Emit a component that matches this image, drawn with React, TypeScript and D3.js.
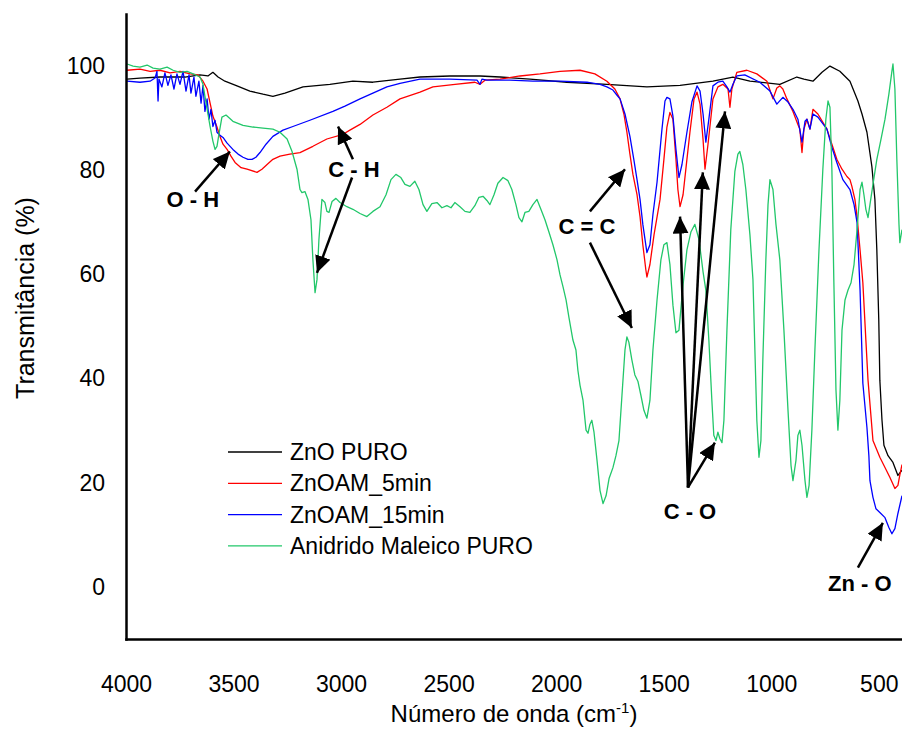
import React, { useRef, useEffect } from 'react';
import * as d3 from 'd3';

type Pt = [number, number];

// [wavenumber (cm-1), transmittance (%)]
const znoPuro: Pt[] = [
  [3995, 97.5], [3935, 97.7], [3842, 97.9], [3726, 97.9], [3656, 98.3], [3619, 98.1],
  [3596, 98.8], [3572, 97.9], [3540, 97.1], [3484, 96.2], [3424, 95.2], [3363, 94.6],
  [3317, 94.2], [3261, 94.8], [3177, 96.0], [3052, 96.5], [2945, 97.1], [2852, 96.9],
  [2726, 97.5], [2633, 97.9], [2494, 98.1], [2354, 98.1], [2261, 97.9], [2122, 97.5],
  [1950, 96.9], [1764, 96.5], [1578, 96.0], [1424, 96.3], [1271, 97.1], [1178, 97.9],
  [1099, 97.1], [960, 96.5], [881, 97.9], [848, 97.5], [806, 97.1], [764, 98.8],
  [727, 100.0], [681, 99.0], [634, 97.1], [597, 93.3], [578, 90.8], [555, 87.3],
  [532, 80.7], [518, 74.4], [509, 64.7], [500, 51.3], [495, 39.7], [485, 32.0],
  [476, 27.2], [457, 25.2], [434, 23.9], [411, 21.4], [392, 22.4],
];

const znoam5min: Pt[] = [
  [3995, 99.2], [3935, 99.4], [3888, 99.0], [3842, 99.2], [3795, 98.7], [3749, 99.0],
  [3702, 98.5], [3665, 98.3], [3642, 97.1], [3623, 95.6], [3609, 92.9], [3596, 90.4],
  [3577, 88.3], [3563, 86.5], [3549, 85.0], [3530, 84.0], [3512, 82.7], [3493, 81.5],
  [3465, 80.5], [3437, 80.2], [3391, 79.6], [3368, 80.2], [3344, 81.1], [3317, 82.1],
  [3284, 82.7], [3238, 83.1], [3191, 83.4], [3131, 84.6], [3066, 86.0], [2991, 86.9],
  [2959, 87.7], [2912, 88.8], [2852, 90.6], [2787, 92.1], [2726, 93.7], [2633, 95.0],
  [2573, 96.0], [2470, 96.5], [2378, 96.9], [2354, 96.5], [2331, 97.3], [2261, 97.5],
  [2168, 98.1], [2075, 98.5], [1982, 99.0], [1889, 99.2], [1820, 98.5], [1764, 97.1],
  [1727, 95.6], [1703, 93.7], [1685, 90.8], [1671, 87.3], [1657, 83.1], [1643, 79.2],
  [1624, 75.3], [1610, 71.1], [1597, 65.7], [1583, 60.9], [1578, 59.5], [1564, 61.9],
  [1545, 67.6], [1517, 74.4], [1499, 82.1], [1485, 88.3], [1471, 91.1], [1457, 89.8],
  [1443, 82.1], [1434, 76.3], [1424, 73.0], [1410, 75.3], [1392, 82.1], [1378, 87.3],
  [1359, 93.7], [1345, 95.0], [1331, 92.7], [1317, 85.9], [1308, 80.2], [1294, 85.0],
  [1271, 93.7], [1248, 96.0], [1225, 96.5], [1211, 96.0], [1201, 95.6], [1192, 92.1],
  [1183, 95.6], [1160, 98.8], [1113, 99.2], [1067, 98.5], [1020, 97.1], [992, 93.7],
  [974, 95.8], [960, 96.2], [946, 95.6], [927, 93.7], [899, 91.3], [876, 88.8],
  [867, 87.9], [857, 83.4], [848, 87.9], [834, 89.8], [820, 87.9], [806, 91.7],
  [783, 90.8], [741, 87.9], [718, 85.0], [695, 82.1], [671, 80.2], [648, 78.8],
  [634, 78.2], [625, 76.9], [611, 74.4], [601, 71.1], [587, 64.7], [574, 58.4],
  [560, 47.4], [550, 39.7], [527, 28.1], [495, 24.9], [448, 21.0], [425, 18.9],
  [411, 19.5], [402, 21.5], [392, 23.5],
];

const znoam15min: Pt[] = [
  [3995, 97.1], [3935, 96.9], [3888, 97.1], [3865, 97.7], [3856, 99.0], [3851, 93.3],
  [3847, 97.5], [3833, 96.0], [3819, 98.7], [3805, 96.3], [3791, 98.3], [3777, 95.6],
  [3763, 98.5], [3749, 96.5], [3735, 99.0], [3721, 95.2], [3707, 98.3], [3698, 94.8],
  [3684, 97.9], [3675, 94.2], [3661, 97.1], [3651, 92.9], [3642, 96.3], [3633, 91.3],
  [3623, 93.7], [3614, 89.8], [3605, 91.7], [3596, 88.4], [3586, 89.6], [3577, 87.3],
  [3563, 86.7], [3549, 86.3], [3530, 85.2], [3503, 84.0], [3479, 83.1], [3456, 82.5],
  [3433, 82.1], [3414, 82.1], [3396, 82.5], [3377, 83.4], [3349, 85.0], [3317, 86.5],
  [3270, 87.7], [3224, 88.4], [3145, 89.6], [3038, 91.3], [2982, 92.3], [2912, 93.7],
  [2852, 94.8], [2787, 96.0], [2726, 96.7], [2633, 97.5], [2494, 97.5], [2368, 97.3],
  [2354, 96.5], [2345, 97.5], [2322, 97.3], [2215, 97.3], [2108, 97.1], [1982, 97.1],
  [1857, 96.9], [1796, 96.5], [1764, 96.0], [1736, 95.4], [1717, 94.4], [1703, 93.7],
  [1680, 90.8], [1657, 86.5], [1639, 82.1], [1624, 78.2], [1610, 74.4], [1597, 69.6],
  [1578, 64.2], [1564, 65.7], [1550, 71.5], [1531, 77.7], [1508, 87.9], [1494, 93.3],
  [1485, 94.0], [1471, 93.7], [1457, 90.4], [1443, 84.0], [1429, 78.6], [1415, 81.1],
  [1392, 87.3], [1369, 93.1], [1345, 96.2], [1331, 95.2], [1317, 90.8], [1304, 85.4],
  [1290, 89.8], [1271, 96.2], [1248, 96.9], [1225, 97.1], [1206, 96.0], [1192, 95.0],
  [1178, 96.5], [1160, 98.1], [1123, 98.3], [1053, 96.9], [1006, 95.2], [974, 92.7],
  [946, 94.0], [922, 93.1], [899, 91.7], [876, 89.8], [857, 85.4], [843, 89.4],
  [834, 89.8], [820, 87.9], [806, 90.8], [783, 90.2], [741, 87.9], [718, 84.4],
  [695, 81.5], [667, 78.2], [634, 76.3], [615, 73.4], [601, 70.0], [587, 57.0],
  [574, 39.1], [555, 30.6], [546, 25.2], [541, 20.4], [527, 17.2], [513, 15.0],
  [495, 14.3], [471, 13.3], [453, 11.4], [439, 10.2], [425, 11.2], [411, 14.1],
  [392, 17.5],
];

const anidridoMaleico: Pt[] = [
  [3995, 100.4], [3967, 100.0], [3935, 99.8], [3902, 100.2], [3874, 99.6], [3842, 99.4],
  [3809, 99.8], [3781, 99.2], [3749, 98.8], [3716, 99.0], [3688, 98.5], [3656, 97.9],
  [3642, 96.5], [3633, 94.2], [3619, 90.8], [3609, 88.4], [3596, 85.6], [3586, 84.0],
  [3577, 84.6], [3568, 86.9], [3554, 90.2], [3535, 90.6], [3503, 89.4], [3456, 88.6],
  [3410, 88.3], [3363, 88.1], [3317, 87.9], [3284, 87.3], [3251, 86.0], [3228, 83.6],
  [3205, 80.2], [3191, 76.3], [3182, 75.7], [3168, 75.9], [3154, 74.4], [3140, 70.5],
  [3131, 62.8], [3121, 56.5], [3112, 59.0], [3103, 66.7], [3089, 74.4], [3075, 73.8],
  [3066, 72.1], [3056, 71.9], [3042, 74.0], [3024, 74.6], [3005, 73.8], [2973, 73.0],
  [2945, 72.5], [2912, 71.7], [2880, 71.1], [2852, 72.1], [2819, 73.0], [2791, 75.3],
  [2768, 78.2], [2745, 79.2], [2722, 78.6], [2703, 77.3], [2680, 76.9], [2657, 77.9],
  [2638, 76.3], [2619, 73.4], [2601, 72.1], [2578, 73.6], [2554, 73.8], [2531, 72.8],
  [2508, 73.2], [2489, 72.8], [2471, 73.8], [2447, 73.0], [2424, 72.1], [2401, 71.9],
  [2378, 73.2], [2359, 74.8], [2340, 75.0], [2322, 74.2], [2308, 73.4], [2289, 75.3],
  [2271, 77.5], [2247, 78.6], [2224, 78.0], [2206, 76.3], [2187, 73.4], [2173, 70.9],
  [2159, 70.1], [2145, 71.9], [2127, 72.1], [2108, 73.4], [2089, 74.4], [2071, 72.5],
  [2052, 70.5], [2034, 68.2], [2015, 65.7], [1996, 62.8], [1982, 59.9], [1968, 57.6],
  [1954, 55.1], [1940, 51.6], [1922, 47.4], [1908, 45.5], [1899, 41.6], [1889, 38.7],
  [1875, 35.8], [1861, 30.1], [1852, 29.5], [1843, 31.2], [1834, 32.0], [1824, 29.7],
  [1810, 24.3], [1796, 18.5], [1782, 16.0], [1768, 17.5], [1754, 20.8], [1736, 22.9],
  [1722, 25.2], [1708, 28.1], [1694, 36.8], [1680, 45.5], [1671, 48.0], [1662, 47.0],
  [1648, 43.6], [1634, 40.7], [1620, 39.5], [1606, 36.8], [1592, 33.9], [1578, 32.4],
  [1564, 35.8], [1550, 45.5], [1531, 55.1], [1513, 62.8], [1499, 65.7], [1485, 66.1],
  [1471, 61.9], [1457, 54.1], [1443, 48.8], [1429, 49.3], [1410, 58.0], [1392, 64.7],
  [1373, 68.2], [1355, 69.6], [1336, 66.7], [1317, 60.5], [1304, 57.0], [1290, 47.4],
  [1276, 35.8], [1267, 29.1], [1257, 28.1], [1248, 29.7], [1239, 28.5], [1229, 27.7],
  [1220, 32.0], [1206, 49.3], [1188, 68.6], [1169, 79.8], [1155, 83.1], [1146, 83.6],
  [1132, 81.1], [1118, 76.3], [1099, 67.6], [1085, 59.0], [1076, 45.5], [1067, 32.0],
  [1057, 24.9], [1048, 28.1], [1039, 43.6], [1025, 62.8], [1015, 73.4], [1006, 78.2],
  [992, 76.3], [978, 69.6], [960, 62.8], [941, 49.3], [922, 33.9], [908, 23.3],
  [899, 20.4], [885, 24.3], [876, 29.1], [867, 30.1], [857, 27.2], [843, 20.4],
  [834, 17.2], [824, 19.5], [811, 30.1], [797, 45.5], [778, 64.7], [760, 80.2],
  [746, 89.8], [736, 93.3], [727, 92.1], [718, 80.2], [709, 59.0], [699, 37.8],
  [690, 30.1], [681, 35.8], [671, 49.3], [657, 55.1], [643, 57.0], [629, 58.4],
  [615, 61.9], [601, 68.6], [587, 76.3], [578, 77.7], [569, 75.3], [560, 72.5],
  [550, 70.9], [541, 73.4], [527, 77.3], [509, 82.1], [490, 85.9], [471, 89.8],
  [453, 94.6], [439, 99.0], [434, 100.4], [425, 95.6], [416, 82.1], [406, 69.6],
  [402, 66.1], [392, 68.6],
];

const seriesNames = ['ZnO PURO', 'ZnOAM_5min', 'ZnOAM_15min', 'Anidrido Maleico PURO'];
const seriesColors = ['#000000', '#ff0000', '#0000ff', '#22c76a'];
const seriesData = [znoPuro, znoam5min, znoam15min, anidridoMaleico];

const xTicks = [4000, 3500, 3000, 2500, 2000, 1500, 1000, 500];
const yTicks = [0, 20, 40, 60, 80, 100];

// band labels and arrows, in data coordinates
const bandLabels = [
  { text: 'O - H', wn: 3689, t: 74.4 },
  { text: 'C - H', wn: 2940, t: 80.2 },
  { text: 'C = C', wn: 1857, t: 69.2 },
  { text: 'C - O', wn: 1378, t: 14.5 },
  { text: 'Zn - O', wn: 588, t: 0.6 },
];
// [from wn, from T, to wn, to T]
const bandArrows = [
  [3679, 75.9, 3517, 83.6],
  [2945, 82.1, 3014, 88.4],
  [2949, 78.6, 3112, 60.3],
  [1843, 72.1, 1680, 80.2],
  [1843, 66.1, 1648, 49.7],
  [1387, 19.1, 1424, 71.1],
  [1387, 19.1, 1318, 79.6],
  [1387, 19.1, 1215, 91.3],
  [1387, 19.1, 1262, 27.7],
  [597, 3.7, 481, 12.3],
];

const W = 902;
const H = 729;
const FONT = "'Liberation Sans', Arial, sans-serif";

const App = () => {
  const svgRef = useRef(null);

  useEffect(() => {
    if (!svgRef.current) return;
    const svg = d3.select(svgRef.current);
    svg.selectAll('*').remove();

    const left = 126, right = 902, top = 14, bottom = 639;
    const x = d3.scaleLinear().domain([4000, 392]).range([left, right]);
    const y = d3.scaleLinear().domain([-10, 110]).range([bottom, top]);

    svg.append('defs').append('clipPath').attr('id', 'plotclip')
      .append('rect').attr('x', left).attr('y', top - 5)
      .attr('width', right - left).attr('height', bottom - top + 5);

    // spectra
    const line = d3.line<Pt>().x(d => x(d[0])).y(d => y(d[1]));
    const plot = svg.append('g').attr('clip-path', 'url(#plotclip)');
    seriesData.forEach((s, i) => {
      plot.append('path')
        .datum(s)
        .attr('d', line)
        .attr('fill', 'none')
        .attr('stroke', seriesColors[i])
        .attr('stroke-width', 1.3)
        .attr('stroke-linejoin', 'round');
    });

    // axes
    const xAxis = svg.append('g')
      .attr('transform', `translate(0, ${bottom})`)
      .call(d3.axisBottom(x).tickValues(xTicks).tickSize(0).tickSizeOuter(0).tickPadding(37).tickFormat(d3.format('d')));
    const yAxis = svg.append('g')
      .attr('transform', `translate(${left}, 0)`)
      .call(d3.axisLeft(y).tickValues(yTicks).tickSize(0).tickSizeOuter(0).tickPadding(21).tickFormat(d3.format('d')));
    [xAxis, yAxis].forEach(a => {
      a.select('.domain').attr('stroke', '#000').attr('stroke-width', 2.5).attr('stroke-linecap', 'square');
      a.selectAll('text').attr('font-family', FONT).attr('font-size', 23).attr('fill', '#000');
    });

    // axis titles
    const xt = svg.append('text')
      .attr('x', (left + right) / 2).attr('y', 722)
      .attr('text-anchor', 'middle')
      .attr('font-family', FONT).attr('font-size', 24);
    xt.append('tspan').text('Número de onda (cm');
    xt.append('tspan').attr('dy', -9).attr('font-size', 15).text('-1');
    xt.append('tspan').attr('dy', 9).text(')');

    svg.append('text')
      .attr('transform', `translate(34, 298) rotate(-90)`)
      .attr('text-anchor', 'middle')
      .attr('font-family', FONT).attr('font-size', 25)
      .text('Transmitância (%)');

    // legend
    const lg = svg.append('g');
    seriesNames.forEach((name, i) => {
      const ly = 452 + i * 31.3;
      lg.append('line').attr('x1', 228).attr('x2', 282).attr('y1', ly).attr('y2', ly)
        .attr('stroke', seriesColors[i]).attr('stroke-width', 1.3);
      lg.append('text').attr('x', 290).attr('y', ly).attr('dy', '0.35em')
        .attr('font-family', FONT).attr('font-size', 23).text(name);
    });

    // band arrows
    svg.append('defs').append('marker')
      .attr('id', 'head').attr('markerUnits', 'userSpaceOnUse')
      .attr('markerWidth', 18).attr('markerHeight', 16)
      .attr('refX', 17).attr('refY', 8).attr('orient', 'auto')
      .append('path').attr('d', 'M0,0 L17,8 L0,16 Z').attr('fill', '#000');
    bandArrows.forEach(([w0, t0, w1, t1]) => {
      const x0 = x(w0), y0 = y(t0), x1 = x(w1), y1 = y(t1);
      svg.append('line')
        .attr('x1', x0).attr('y1', y0).attr('x2', x1).attr('y2', y1)
        .attr('stroke', '#000').attr('stroke-width', 2.5)
        .attr('marker-end', 'url(#head)');
    });

    // band labels
    bandLabels.forEach(b => {
      svg.append('text')
        .attr('x', x(b.wn)).attr('y', y(b.t)).attr('dy', '0.35em')
        .attr('text-anchor', 'middle')
        .attr('font-family', FONT).attr('font-size', 22).attr('font-weight', 'bold')
        .text(b.text);
    });
  }, []);

  return (
    <svg ref={svgRef} width={W} height={H}
      style={{ position: 'absolute', left: 0, top: 0, background: '#fff' }} />
  );
};

export default App;
